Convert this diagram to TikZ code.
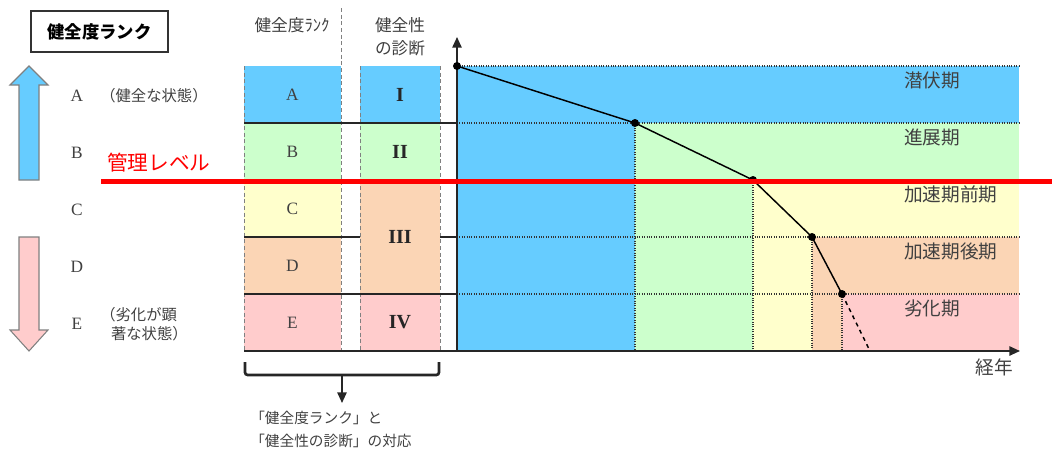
\documentclass[tikz,border=0pt]{standalone}
\usepackage{fontspec}
\setmainfont{Liberation Serif}
\newfontfamily\jp{Noto Sans CJK JP}
\usetikzlibrary{arrows.meta}
\definecolor{rankA}{HTML}{66CCFF}
\definecolor{rankB}{HTML}{CCFFCC}
\definecolor{rankC}{HTML}{FFFFCC}
\definecolor{rankD}{HTML}{FBD5B5}
\definecolor{rankE}{HTML}{FFCCCC}
\definecolor{txtgray}{HTML}{404040}
\begin{document}
\begin{tikzpicture}
[x=0.75pt,y=-0.75pt,
jptext/.style={font=\jp\fontsize{12.5pt}{17pt}\selectfont,text=txtgray,inner sep=0pt},
note/.style={font=\jp\fontsize{11.5pt}{14pt}\selectfont,text=txtgray,anchor=west,inner sep=0pt,align=left},
rankletter/.style={font=\fontsize{13pt}{15pt}\selectfont,text=txtgray},
roman/.style={font=\bfseries\fontsize{15pt}{16pt}\selectfont,text=black!85},
stage/.style={font=\jp\fontsize{14pt}{16pt}\selectfont,text=txtgray,anchor=west,inner sep=0pt},
colborder/.style={draw=gray,densely dashed,line width=0.7pt},
gridline/.style={densely dotted,line width=0.8pt,draw=black!80},
rule/.style={line width=1.3pt,draw=black!85},
tip/.style={-{Triangle[length=8pt,width=7pt]}},
dot/.style={circle,fill=black,inner sep=0pt,minimum size=6pt}]
\useasboundingbox (0,0) rectangle (1052,450);
% title and left legend
\node[draw=black!80,line width=1pt,minimum width=102.75pt,minimum height=30.75pt,
  font=\jp\bfseries\fontsize{13pt}{15pt}\selectfont] (title) at (99.5,31.5) {健全度ランク};
\filldraw[fill=rankA,draw=gray,line width=0.8pt]
  (19,180) -- (19,85) -- (10,85) -- (29,66) -- (48,85) -- (39,85) -- (39,180) -- cycle;
\filldraw[fill=rankE,draw=gray,line width=0.8pt]
  (19,237) -- (39,237) -- (39,330) -- (48,330) -- (29,351) -- (10,330) -- (19,330) -- cycle;
\foreach \r/\y in {A/96,B/153,C/210,D/267,E/324}
  \node[rankletter] (lv\r) at (77,\y) {\r};
\node[note] (noteA) at (100,96) {（健全な状態）};
\node[note] (noteE) at (100,324) {（劣化が顕\\\hspace*{0.7em}著な状態）};
% rank / diagnosis columns
\foreach \c/\top in {A/66,B/123,C/180,D/237,E/294}{
  \fill[rank\c] (244,\top) rectangle (341,{\top+57});
  \node[rankletter] (rk\c) at (292.5,{\top+28.5}) {\c};
}
\fill[rankA] (360,66) rectangle (440,123);
\fill[rankB] (360,123) rectangle (440,180);
\fill[rankD] (360,180) rectangle (440,294);
\fill[rankE] (360,294) rectangle (440,351);
\node[roman] (dgI) at (400,94.5) {I};
\node[roman] (dgII) at (400,151.5) {II};
\node[roman] (dgIII) at (400,237) {III};
\node[roman] (dgIV) at (400,322.5) {IV};
\node[jptext] (hdrRank) at (292,25) {健全度ﾗﾝｸ};
\node[jptext,align=center] (hdrDiag) at (400,37) {健全性\\の診断};
\draw[colborder] (244,66) -- (244,351);
\draw[colborder] (341,8) -- (341,351);
\draw[colborder] (360,66) -- (360,351);
\draw[colborder] (440,66) -- (440,351);
\draw[rule] (244,123) -- (457,123);
\draw[rule] (244,180) -- (457,180);
\draw[rule] (244,237) -- (360,237) (440,237) -- (457,237);
\draw[rule] (244,294) -- (457,294);
% chart bands
\fill[rankA] (457,66) rectangle (1019,123);
\fill[rankA] (457,123) rectangle (635,351);
\fill[rankB] (635,123) rectangle (1019,180);
\fill[rankB] (635,180) rectangle (753,351);
\fill[rankC] (753,180) rectangle (1019,237);
\fill[rankC] (753,237) rectangle (812,351);
\fill[rankD] (812,237) rectangle (1019,294);
\fill[rankD] (812,294) rectangle (842,351);
\fill[rankE] (842,294) rectangle (1019,351);
\foreach \y in {66,123,180,237,294}
  \draw[gridline] (457,\y) -- (1019,\y);
\draw[gridline] (635,123) -- (635,351);
\draw[gridline] (753,180) -- (753,351);
\draw[gridline] (812,237) -- (812,351);
\draw[gridline] (842,294) -- (842,351);
\foreach \s/\y/\t in {latent/80/潜伏期,growth/137/進展期,accA/194/加速期前期,accB/251/加速期後期,worse/308/劣化期}
  \node[stage] (st\s) at (904,\y) {\t};
% axes
\coordinate (origin) at (457,351);
\coordinate (yend) at (457,37);
\coordinate (xstart) at (244,351);
\coordinate (xend) at (1020,351);
\draw[rule,tip] (origin) -- (yend);
\draw[rule,tip] (xstart) -- (xend);
\node[stage,anchor=center] (years) at (994,367) {経年};
% deterioration curve
\coordinate (p0) at (457,66);
\coordinate (p1) at (635,123);
\coordinate (p2) at (753,180);
\coordinate (p3) at (812,237);
\coordinate (p4) at (842,294);
\coordinate (p5) at (870,351);
\draw[line width=1.1pt] (p0) -- (p1) -- (p2) -- (p3) -- (p4);
\draw[line width=1.1pt,dashed] (p4) -- (p5);
\foreach \p in {p0,p1,p2,p3,p4}
  \node[dot] (d\p) at (\p) {};
% management level
\draw[red,line width=3.75pt] (101,181) -- (1052,181);
\node[anchor=west,inner sep=0pt,text=red,font=\jp\fontsize{15.5pt}{17pt}\selectfont] (kanri) at (107,163) {管理レベル};
% bracket
\coordinate (brkL) at (245,362);
\coordinate (brkR) at (439,362);
\coordinate (brkmid) at (342,375);
\coordinate (brkend) at (342,403);
\draw[rule,line width=2pt,rounded corners=2pt] (brkL) -- (245,375) -- (439,375) -- (brkR);
\draw[rule,tip] (brkmid) -- (brkend);
\node[jptext,anchor=north west,align=left,font=\jp\fontsize{11pt}{17pt}\selectfont] (corr) at (250,411) {「健全度ランク」と\\「健全性の診断」の対応};
\end{tikzpicture}
\end{document}
